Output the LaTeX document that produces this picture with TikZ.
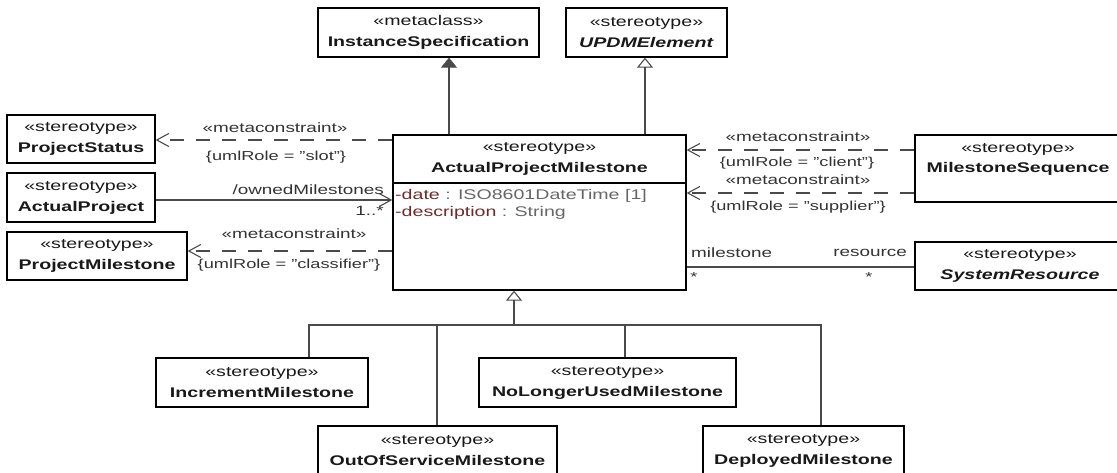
\documentclass[tikz,border=0pt]{standalone}
\usepackage{fontspec}
\setmainfont{Liberation Sans}[FakeStretch=1.4]
\usetikzlibrary{arrows.meta}
\definecolor{lnc}{HTML}{4A4A4A}
\definecolor{attrc}{HTML}{6E2A2A}
\definecolor{typc}{HTML}{666666}
\definecolor{lblc}{HTML}{333333}
\begin{document}
\begin{tikzpicture}[x=1pt,y=-1pt,
  box/.style={draw=black, line width=1.3pt, inner sep=0pt, align=center,
    font=\fontsize{14}{21}\selectfont, text=black!90},
  btext/.style={inner sep=0pt, font=\fontsize{14}{17}\selectfont, text=black!90},
  lab/.style={inner sep=0pt, font=\fontsize{13.5}{16}\selectfont, text=lblc},
  slab/.style={inner sep=0pt, font=\fontsize{13}{16}\selectfont, text=lblc},
  attr/.style={inner sep=0pt, anchor=west, font=\fontsize{14}{17}\selectfont},
  conn/.style={draw=lnc, line width=1.1pt},
  dep/.style={conn, dash pattern=on 14pt off 12pt, -{Straight Barb[length=12pt,width=13pt]}},
  nav/.style={conn, -{Straight Barb[length=12pt,width=13pt]}},
  gen/.style={conn, -{Triangle[open,length=10pt,width=16pt,line width=1.1pt]}},
  ext/.style={conn, -{Triangle[length=10pt,width=16pt,fill=lnc]}}
]
\useasboundingbox (0,0) rectangle (1117,472);

% helper coordinates
\coordinate (xe) at (449,0);
\coordinate (xg) at (645,0);
\coordinate (xt) at (514,0);
\coordinate (x309) at (309,0);
\coordinate (x437) at (437,0);
\coordinate (x625) at (625,0);
\coordinate (x821) at (821,0);
\coordinate (r140) at (0,140);
\coordinate (r200) at (0,200);
\coordinate (r251) at (0,251);
\coordinate (r150) at (0,150);
\coordinate (r193) at (0,193);
\coordinate (r267) at (0,267);
\coordinate (sep) at (0,183);
\coordinate (bus) at (0,325);

% boxes
\node[box, minimum width=221pt, minimum height=49pt] (is) at (428.5,32.5)
  {«metaclass»\\\textbf{InstanceSpecification}};
\node[box, minimum width=161pt, minimum height=49pt] (updm) at (646.5,32.5)
  {«stereotype»\\\textbf{\itshape UPDMElement}};
\node[box, minimum width=148pt, minimum height=48pt] (ps) at (81,139)
  {«stereotype»\\\textbf{ProjectStatus}};
\node[box, minimum width=148pt, minimum height=49pt] (ap) at (81,197.5)
  {«stereotype»\\\textbf{ActualProject}};
\node[box, minimum width=180pt, minimum height=48pt] (pm) at (97,256)
  {«stereotype»\\\textbf{ProjectMilestone}};

\node[box, minimum width=293pt, minimum height=155pt] (apm) at (539.5,212.5) {};
\node[btext] (apmst) at (539.5,148) {«stereotype»};
\node[btext] (apmnm) at (539.5,169) {\textbf{ActualProjectMilestone}};
\draw[line width=1.3pt] (apm.west |- sep) -- (apm.east |- sep);
\node[attr] (a1) at (395,196) {{\color{attrc}-date}~{\color{typc}: ISO8601DateTime [1]}};
\node[attr] (a2) at (395,213) {{\color{attrc}-description}~{\color{typc}: String}};

\node[box, minimum width=210pt, minimum height=67pt] (ms) at (1020,168.5) {};
\node[btext] (mst) at (1018,149) {«stereotype»};
\node[btext] (msn) at (1018,169) {\textbf{MilestoneSequence}};

\node[box, minimum width=210pt, minimum height=48pt] (sr) at (1020,266)
  {«stereotype»\\\textbf{\itshape SystemResource}};

\node[box, minimum width=212pt, minimum height=49pt] (im) at (262,382.5)
  {«stereotype»\\\textbf{IncrementMilestone}};
\node[box, minimum width=257pt, minimum height=49pt] (nlu) at (607.5,382.5)
  {«stereotype»\\\textbf{NoLongerUsedMilestone}};
\node[box, minimum width=239pt, minimum height=49pt] (oos) at (437.5,450.5)
  {«stereotype»\\\textbf{OutOfServiceMilestone}};
\node[box, minimum width=201pt, minimum height=49pt] (dm) at (803.5,450.5)
  {«stereotype»\\\textbf{DeployedMilestone}};

% extension and generalizations
\draw[ext] (apm.north -| xe) -- (is.south -| xe);
\draw[gen] (apm.north -| xg) -- (updm.south -| xg);

% metaconstraints and associations on the left
\draw[dep] (apm.west |- r140) -- (ps.east |- r140);
\node[lab] (l1) at (275,128) {«metaconstraint»};
\node[slab] (l2) at (276,157) {\{umlRole = "slot"\}};

\draw[nav] (ap.east |- r200) -- (apm.west |- r200);
\node[lab, anchor=east] (l3) at (384,190) {/ownedMilestones};
\node[lab, anchor=east] (l4) at (384,211) {1..*};

\draw[dep] (apm.west |- r251) -- (pm.east |- r251);
\node[lab] (l5) at (294,234) {«metaconstraint»};
\node[slab] (l6) at (289,265) {\{umlRole = "classifier"\}};

% right side
\draw[dep] (ms.west |- r150) -- (apm.east |- r150);
\node[lab] (l7) at (798,137) {«metaconstraint»};
\node[slab] (l8) at (797,163) {\{umlRole = "client"\}};
\draw[dep] (ms.west |- r193) -- (apm.east |- r193);
\node[lab] (l9) at (798,180) {«metaconstraint»};
\node[slab] (l10) at (798,207) {\{umlRole = "supplier"\}};

\draw[conn] (apm.east |- r267) -- (sr.west |- r267);
\node[lab, anchor=west] (l11) at (691,253) {milestone};
\node[lab, anchor=east] (l12) at (907,253) {resource};
\node[slab] (l13) at (694,277) {*};
\node[slab] (l14) at (869,277) {*};

% generalization tree
\draw[conn] (im.north -| x309) -- (x309 |- bus) -- (x821 |- bus) -- (dm.north -| x821);
\draw[conn] (oos.north -| x437) -- (x437 |- bus);
\draw[conn] (nlu.north -| x625) -- (x625 |- bus);
\draw[gen] (xt |- bus) -- (apm.south -| xt);
\end{tikzpicture}
\end{document}
